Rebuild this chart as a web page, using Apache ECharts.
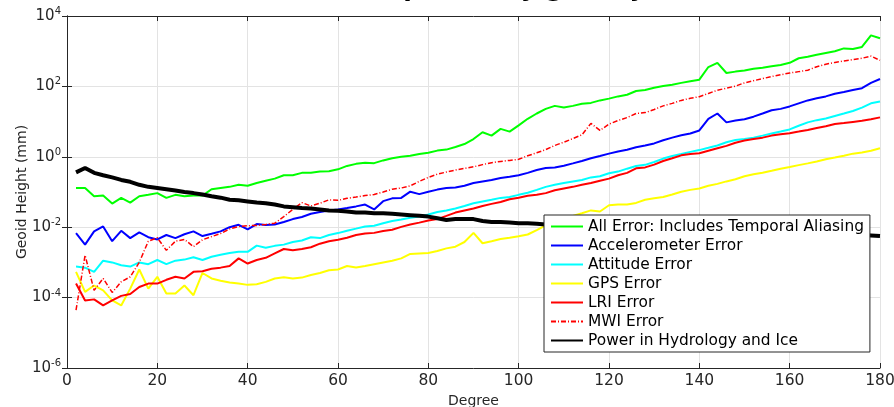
<!DOCTYPE html>
<html>
<head>
<meta charset="utf-8">
<script src="https://cdn.jsdelivr.net/npm/echarts@6/dist/echarts.min.js"></script>
<style>
  html, body { margin: 0; padding: 0; background: #fff; }
  #errorChart { width: 894px; height: 407px; }
</style>
</head>
<body>
<div id="errorChart"></div>
<script>
// spherical harmonic degree (sampled every 2)
const degree = [2,4,6,8,10,12,14,16,18,20,22,24,26,28,30,32,34,36,38,40,42,44,46,48,50,52,54,56,58,60,
  62,64,66,68,70,72,74,76,78,80,82,84,86,88,90,92,94,96,98,100,102,104,106,108,110,112,114,116,118,120,
  122,124,126,128,130,132,134,136,138,140,142,144,146,148,150,152,154,156,158,160,162,164,166,168,170,172,174,176,178,180];

// geoid height (mm)
const allError = [1.3e-1,1.3e-1,7.6e-2,7.9e-2,4.7e-2,6.8e-2,5.0e-2,7.6e-2,8.3e-2,9.3e-2,6.8e-2,8.3e-2,7.6e-2,7.9e-2,7.9e-2,
  1.2e-1,1.3e-1,1.4e-1,1.6e-1,1.5e-1,1.8e-1,2.1e-1,2.4e-1,3.0e-1,3.0e-1,3.5e-1,3.5e-1,3.8e-1,3.9e-1,4.4e-1,
  5.5e-1,6.3e-1,6.8e-1,6.6e-1,7.9e-1,9.1e-1,1.0,1.07,1.2,1.3,1.5,1.6,1.9,2.3,3.2,5.0,4.0,6.2,5.2,7.8,
  12,17,23,28,25,28,32,34,40,45,52,58,74,79,91,102,112,126,141,155,355,468,240,263,282,316,339,372,407,468,
  631,692,794,891,1000,1200,1150,1320,2820,2340];
const accelError = [6.8e-3,3.2e-3,7.6e-3,1.05e-2,4.0e-3,7.9e-3,4.9e-3,7.1e-3,5.2e-3,4.5e-3,6.0e-3,4.9e-3,6.3e-3,7.6e-3,5.6e-3,
  6.5e-3,7.6e-3,1.0e-2,1.17e-2,8.7e-3,1.23e-2,1.15e-2,1.2e-2,1.4e-2,1.7e-2,1.95e-2,2.4e-2,2.7e-2,3.0e-2,3.2e-2,
  3.5e-2,3.9e-2,4.4e-2,3.2e-2,5.5e-2,6.6e-2,6.8e-2,1.02e-1,8.7e-2,1.02e-1,1.17e-1,1.3e-1,1.35e-1,1.5e-1,1.8e-1,2.0e-1,2.2e-1,2.5e-1,2.7e-1,3.0e-1,
  3.5e-1,4.2e-1,4.8e-1,5.0e-1,5.6e-1,6.5e-1,7.6e-1,9.1e-1,1.05,1.23,1.41,1.58,1.86,2.1,2.4,2.95,3.5,4.1,4.6,5.6,
  12,17,9.5,10.7,11.7,13.8,17,21,23,27,33,40,46,52,62,69,79,89,126,162];
const attitudeError = [7.6e-4,7.1e-4,5.4e-4,1.12e-3,1.0e-3,8.3e-4,7.6e-4,1.0e-3,8.9e-4,1.17e-3,8.9e-4,1.12e-3,1.2e-3,1.4e-3,1.17e-3,
  1.45e-3,1.66e-3,1.86e-3,2.0e-3,2.0e-3,3.0e-3,2.6e-3,2.95e-3,3.2e-3,3.8e-3,4.2e-3,5.2e-3,4.9e-3,6.0e-3,6.8e-3,
  7.9e-3,9.1e-3,1.05e-2,1.1e-2,1.3e-2,1.5e-2,1.66e-2,1.86e-2,2.0e-2,2.3e-2,2.7e-2,3.0e-2,3.4e-2,4.0e-2,4.8e-2,5.4e-2,6.0e-2,6.8e-2,7.2e-2,8.3e-2,
  9.5e-2,1.15e-1,1.4e-1,1.6e-1,1.8e-1,2.0e-1,2.2e-1,2.6e-1,2.8e-1,3.4e-1,3.8e-1,4.6e-1,5.5e-1,5.9e-1,7.1e-1,8.9e-1,1.05,1.2,1.38,1.55,
  1.8,2.1,2.6,3.0,3.2,3.5,4.0,4.6,5.2,6.0,7.6,9.5,11,12.3,14.5,17,20,25,33,37];
const gpsError = [5.4e-4,1.45e-4,2.2e-4,1.6e-4,8.3e-5,6.0e-5,1.8e-4,6.3e-4,1.8e-4,3.9e-4,1.3e-4,1.3e-4,2.2e-4,1.17e-4,5.0e-4,
  3.5e-4,3.0e-4,2.7e-4,2.5e-4,2.3e-4,2.4e-4,2.8e-4,3.5e-4,3.8e-4,3.5e-4,3.7e-4,4.4e-4,5.0e-4,6.0e-4,6.3e-4,
  7.9e-4,7.2e-4,7.9e-4,8.9e-4,1.0e-3,1.12e-3,1.3e-3,1.74e-3,1.8e-3,1.86e-3,2.1e-3,2.5e-3,2.8e-3,3.8e-3,6.9e-3,3.5e-3,4.0e-3,4.6e-3,5.0e-3,5.5e-3,
  6.2e-3,8.3e-3,1.12e-2,1.5e-2,1.8e-2,2.1e-2,2.5e-2,3.0e-2,2.8e-2,4.2e-2,4.4e-2,4.4e-2,4.9e-2,6.0e-2,6.6e-2,7.2e-2,8.5e-2,1.02e-1,1.15e-1,1.26e-1,
  1.5e-1,1.7e-1,2.0e-1,2.3e-1,2.8e-1,3.2e-1,3.5e-1,4.0e-1,4.6e-1,5.1e-1,5.8e-1,6.5e-1,7.4e-1,8.5e-1,9.5e-1,1.07,1.23,1.32,1.48,1.74];
const lriError = [2.5e-4,8.3e-5,8.9e-5,6.0e-5,8.3e-5,1.12e-4,1.26e-4,2.0e-4,2.5e-4,2.5e-4,3.2e-4,3.9e-4,3.5e-4,5.4e-4,5.6e-4,
  6.6e-4,7.1e-4,7.9e-4,1.3e-3,9.3e-4,1.17e-3,1.35e-3,1.8e-3,2.4e-3,2.2e-3,2.4e-3,2.7e-3,3.4e-3,4.0e-3,4.4e-3,
  5.0e-3,6.0e-3,6.6e-3,6.9e-3,7.8e-3,8.5e-3,1.02e-2,1.2e-2,1.35e-2,1.55e-2,1.7e-2,2.1e-2,2.6e-2,3.0e-2,3.4e-2,4.0e-2,4.6e-2,5.2e-2,6.2e-2,6.9e-2,
  7.8e-2,8.3e-2,9.3e-2,1.12e-1,1.26e-1,1.4e-1,1.6e-1,1.8e-1,2.1e-1,2.4e-1,3.0e-1,3.5e-1,4.7e-1,5.0e-1,6.0e-1,7.6e-1,9.1e-1,1.1,1.2,1.26,
  1.48,1.74,2.04,2.5,2.9,3.2,3.5,4.0,4.4,4.7,5.2,5.8,6.6,7.4,8.5,9.1,9.8,10.5,11.7,13.2];
const mwiError = [4.4e-5,1.6e-3,1.6e-4,3.5e-4,1.4e-4,2.8e-4,3.9e-4,1.0e-3,4.0e-3,5.0e-3,2.2e-3,4.0e-3,4.5e-3,2.8e-3,4.4e-3,
  5.4e-3,6.6e-3,8.9e-3,1.05e-2,1.1e-2,1.12e-2,1.2e-2,1.3e-2,2.0e-2,3.2e-2,5.0e-2,4.0e-2,4.8e-2,6.0e-2,5.8e-2,
  6.6e-2,7.2e-2,7.9e-2,8.5e-2,1.0e-1,1.2e-1,1.3e-1,1.5e-1,2.0e-1,2.6e-1,3.2e-1,3.7e-1,4.2e-1,4.7e-1,5.2e-1,6.0e-1,6.8e-1,7.4e-1,7.9e-1,8.5e-1,
  1.07,1.3,1.6,2.1,2.6,3.3,4.2,8.9,5.6,8.5,10.7,13,17,18,22,28,33,40,46,51,
  63,78,89,102,126,145,166,191,214,240,263,288,363,427,479,525,575,631,724,550];
const hydroIce = [3.6e-1,4.8e-1,3.5e-1,3.0e-1,2.6e-1,2.2e-1,1.95e-1,1.6e-1,1.4e-1,1.3e-1,1.2e-1,1.1e-1,1.0e-1,9.3e-2,8.5e-2,
  7.6e-2,6.9e-2,6.0e-2,5.8e-2,5.4e-2,5.0e-2,4.8e-2,4.4e-2,3.9e-2,3.7e-2,3.5e-2,3.4e-2,3.2e-2,3.0e-2,2.95e-2,
  2.8e-2,2.6e-2,2.6e-2,2.5e-2,2.5e-2,2.4e-2,2.3e-2,2.2e-2,2.1e-2,2.0e-2,1.8e-2,1.6e-2,1.7e-2,1.7e-2,1.7e-2,1.5e-2,1.4e-2,1.4e-2,1.35e-2,1.3e-2,
  1.3e-2,1.26e-2,1.2e-2,1.2e-2,1.15e-2,1.1e-2,1.07e-2,1.0e-2,1.0e-2,9.5e-3,9.3e-3,8.9e-3,8.7e-3,8.3e-3,8.1e-3,7.9e-3,7.8e-3,7.6e-3,7.4e-3,7.2e-3,
  7.1e-3,6.9e-3,6.9e-3,6.8e-3,6.6e-3,6.6e-3,6.5e-3,6.5e-3,6.3e-3,6.3e-3,6.2e-3,6.2e-3,6.0e-3,6.0e-3,6.0e-3,5.9e-3,5.9e-3,6.0e-3,5.8e-3,5.6e-3];

const xTicks = [0, 180, 20];
const yRange = [1e-6, 1e4];

const axisColor = "#262626";
const font = "DejaVu Sans";

function pairs(vals) {
  return degree.map((d, i) => [d, vals[i]]);
}

function line(name, vals, color, width, type) {
  return {
    name: name,
    type: "line",
    data: pairs(vals),
    symbol: "none",
    xAxisIndex: 0,
    yAxisIndex: 0,
    lineStyle: { color: color, width: width, type: type || "solid" },
    itemStyle: { color: color },
    z: 3
  };
}

let myChart = echarts.init(document.getElementById("errorChart"));
myChart.setOption({
  animation: false,
  backgroundColor: "#fff",
  title: {
    text: "Geoid Error Spectra by gravity errors",
    left: "473",
    textAlign: "center",
    top: -28,
    textStyle: { fontFamily: font, fontSize: 25, fontWeight: "bold", color: "#000" }
  },
  grid: { left: 67, right: 14, top: 16, bottom: 39, outerBoundsMode: "none", containLabel: false },
  legend: {
    orient: "vertical",
    left: 544,
    top: 215,
    padding: [4, 6, 4, 6],
    itemWidth: 32,
    itemHeight: 15,
    itemGap: 4,
    backgroundColor: "#fff",
    borderColor: axisColor,
    borderWidth: 1,
    itemStyle: { color: "transparent", borderWidth: 0 },
    textStyle: { fontFamily: font, fontSize: 15.4, color: "#000" },
    data: ["All Error: Includes Temporal Aliasing", "Accelerometer Error", "Attitude Error",
      "GPS Error", "LRI Error", "MWI Error", "Power in Hydrology and Ice"]
  },
  xAxis: [
    {
      type: "value",
      min: xTicks[0], max: xTicks[1], interval: xTicks[2],
      name: "Degree",
      nameLocation: "middle",
      nameGap: 24,
      nameTextStyle: { fontFamily: font, fontSize: 14, color: axisColor },
      axisLine: { lineStyle: { color: axisColor } },
      axisTick: { inside: true, length: 5, lineStyle: { color: axisColor } },
      axisLabel: { fontFamily: font, fontSize: 15.5, color: axisColor, margin: 5 },
      splitLine: { show: true, lineStyle: { color: "#e3e3e3" } }
    },
    {
      type: "value",
      position: "top",
      min: xTicks[0], max: xTicks[1], interval: xTicks[2],
      axisLine: { show: true, onZero: false, lineStyle: { color: axisColor } },
      axisTick: { inside: true, length: 5, lineStyle: { color: axisColor } },
      axisLabel: { show: false },
      splitLine: { show: false }
    }
  ],
  yAxis: [
    {
      type: "log",
      logBase: 100,
      min: yRange[0], max: yRange[1],
      name: "Geoid Height (mm)",
      nameLocation: "middle",
      nameGap: 38,
      nameMoveOverlap: false,
      nameTextStyle: { fontFamily: font, fontSize: 14, color: axisColor },
      axisLine: { show: true, lineStyle: { color: axisColor } },
      axisTick: { show: true, inside: true, length: 5, lineStyle: { color: axisColor } },
      axisLabel: {
        margin: 6,
        color: axisColor,
        formatter: function (v) {
          const e = Math.round(Math.log10(v));
          return "{b|10}{s|" + e + "}";
        },
        rich: {
          b: { fontFamily: font, fontSize: 15, color: axisColor },
          s: { fontFamily: font, fontSize: 10, color: axisColor, padding: [0, 0, 9, 0] }
        }
      },
      splitLine: { show: true, lineStyle: { color: "#e3e3e3" } }
    },
    {
      type: "log",
      logBase: 100,
      position: "right",
      min: yRange[0], max: yRange[1],
      axisLine: { show: true, lineStyle: { color: axisColor } },
      axisTick: { show: true, inside: true, length: 5, lineStyle: { color: axisColor } },
      axisLabel: { show: false },
      splitLine: { show: false }
    }
  ],
  series: [
    line("All Error: Includes Temporal Aliasing", allError, "#00ff00", 2),
    line("Accelerometer Error", accelError, "#0000ff", 2),
    line("Attitude Error", attitudeError, "#00ffff", 2),
    line("GPS Error", gpsError, "#ffff00", 2),
    line("LRI Error", lriError, "#ff0000", 2),
    line("MWI Error", mwiError, "#ff0000", 1.5, [5, 2, 1, 2]),
    line("Power in Hydrology and Ice", hydroIce, "#000000", 4)
  ]
});
</script>
</body>
</html>
